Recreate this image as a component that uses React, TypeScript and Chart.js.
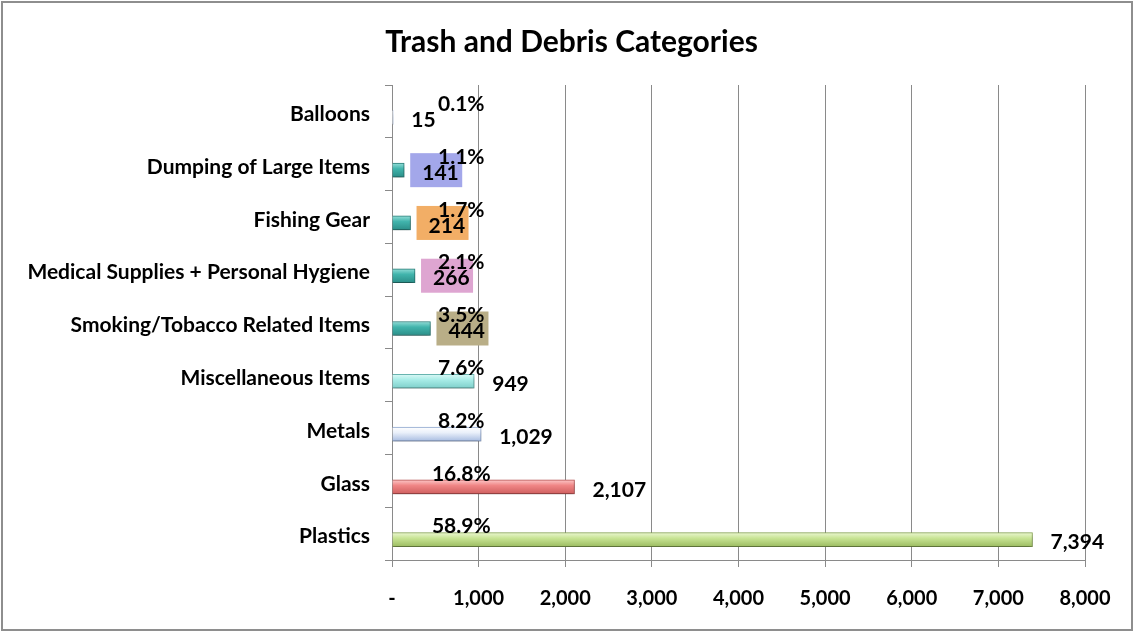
import React, { useEffect, useRef } from "react";
import { Chart, registerables } from "chart.js";

Chart.register(...registerables);

const categories = [
  "Balloons",
  "Dumping of Large Items",
  "Fishing Gear",
  "Medical Supplies + Personal Hygiene",
  "Smoking/Tobacco Related Items",
  "Miscellaneous Items",
  "Metals",
  "Glass",
  "Plastics",
];
const counts = [15, 141, 214, 266, 444, 949, 1029, 2107, 7394];
const percentLabels = ["0.1%", "1.1%", "1.7%", "2.1%", "3.5%", "7.6%", "8.2%", "16.8%", "58.9%"];
const xMin = 0;
const xMax = 8000;
const xStep = 1000;
const titleText = "Trash and Debris Categories";

// styles (top, mid, bottom, border)
const teal = ["#93ddd7", "#41b4ac", "#2b8e88", "#2a7f7a"];
const barStyles = [
  ["#ffffff", "#f4f7fc", "#dce5f3", "#c0cfe8"],
  teal,
  teal,
  teal,
  teal,
  ["#dbf9f6", "#a8ece7", "#7ecfca", "#6ab7b2"],
  ["#ffffff", "#eaf0fa", "#a9bde1", "#8ea6d1"],
  ["#fcc8c8", "#f08686", "#cf5f5f", "#b65050"],
  ["#ebf7d2", "#c8e494", "#9cbc61", "#88a653"],
];
const valueBoxColors = [null, "#a3a7ea", "#f2ae66", "#dea5d1", "#b9ae87", null, null, null, null];

const FONT = "Lato, 'DejaVu Sans', sans-serif";
const BAR_SHIFT = 6;
const BAR_THICK = 14;

const fmt = (v: number) => (v === 0 ? "-" : Number(v).toLocaleString("en-US"));

export default function App() {
  const ref = useRef<HTMLCanvasElement | null>(null);

  useEffect(() => {
    if (!ref.current) return;

    const overlay = {
      id: "overlay",
      beforeDatasetsDraw(chart: any) {
        const ctx = chart.ctx;
        ctx.save();
        ctx.translate(0, BAR_SHIFT);
        ctx.shadowColor = "rgba(0,0,0,0.35)";
        ctx.shadowBlur = 4;
        ctx.shadowOffsetY = 3;
      },
      afterDatasetsDraw(chart: any) {
        chart.ctx.restore();
      },
      afterDraw(chart: any) {
        const ctx = chart.ctx;
        const xs = chart.scales.x;
        const ys = chart.scales.y;
        ctx.save();
        // outer border
        ctx.strokeStyle = "#8e8e8e";
        ctx.lineWidth = 2;
        ctx.strokeRect(2, 2, chart.width - 5, chart.height - 5);
        // title
        ctx.fillStyle = "#000";
        ctx.font = `bold 30px ${FONT}`;
        ctx.textAlign = "center";
        ctx.textBaseline = "middle";
        ctx.fillText(titleText, chart.width / 2 + 4, 42);

        ctx.font = `bold 21px ${FONT}`;
        // value boxes + labels
        counts.forEach((v, i) => {
          const cy = ys.getPixelForValue(i);
          const end = xs.getPixelForValue(v);
          const box = valueBoxColors[i];
          if (box) {
            ctx.fillStyle = box;
            ctx.fillRect(end + 6, cy + BAR_SHIFT - 17, 52, 34);
          }
          ctx.fillStyle = "#000";
          ctx.textAlign = "left";
          ctx.textBaseline = "middle";
          ctx.fillText(fmt(v), end + 18, cy + 9);
        });
        // percent labels
        percentLabels.forEach((p, i) => {
          const cy = ys.getPixelForValue(i);
          ctx.fillStyle = "#000";
          ctx.textAlign = "center";
          ctx.textBaseline = "middle";
          ctx.fillText(p, xs.getPixelForValue(800), cy - 7);
        });
        ctx.restore();
      },
    };

    const chart = new Chart(ref.current, {
      type: "bar",
      data: {
        labels: categories,
        datasets: [
          {
            data: counts,
            barThickness: BAR_THICK,
            borderWidth: 1,
            borderColor: barStyles.map((s) => s[3]),
            backgroundColor: (c: any) => {
              const s = barStyles[c.dataIndex] || teal;
              const chartObj = c.chart;
              if (!chartObj.chartArea || !chartObj.scales.y) return s[1];
              const y = chartObj.scales.y.getPixelForValue(c.dataIndex);
              const g = chartObj.ctx.createLinearGradient(0, y - BAR_THICK / 2, 0, y + BAR_THICK / 2);
              g.addColorStop(0, s[0]);
              g.addColorStop(0.4, s[1]);
              g.addColorStop(1, s[2]);
              return g;
            },
          },
        ],
      },
      options: {
        indexAxis: "y",
        animation: false,
        responsive: false,
        maintainAspectRatio: false,
        layout: { padding: { left: 0, top: 85, right: 50, bottom: 0 } },
        plugins: {
          legend: { display: false },
          title: { display: false },
          tooltip: { enabled: false },
        },
        scales: {
          x: {
            min: xMin,
            max: xMax,
            ticks: {
              stepSize: xStep,
              callback: (v: any) => fmt(Number(v)),
              color: "#000",
              font: { family: FONT, size: 20, weight: "bold" },
              padding: 20,
              maxRotation: 0,
            },
            grid: { color: "#8a8a8a", lineWidth: 1, tickLength: 7, drawTicks: true },
            border: { color: "#8a8a8a", width: 1 },
            afterFit: (s: any) => {
              s.height = 73;
            },
          },
          y: {
            ticks: {
              color: "#000",
              font: { family: FONT, size: 21, weight: "bold" },
              padding: 15,
              labelOffset: 3,
            },
            grid: { drawOnChartArea: false, drawTicks: true, tickLength: 7, color: "#8a8a8a" },
            border: { color: "#8a8a8a", width: 1 },
            afterFit: (s: any) => {
              s.width = 392;
            },
          },
        },
      },
      plugins: [overlay],
    });
    return () => chart.destroy();
  }, []);

  return (
    <div style={{ position: "absolute", left: 0, top: 0, width: 1135, height: 633, background: "#fff" }}>
      <canvas ref={ref} width={1135} height={633} style={{ width: 1135, height: 633, display: "block" }} />
    </div>
  );
}
